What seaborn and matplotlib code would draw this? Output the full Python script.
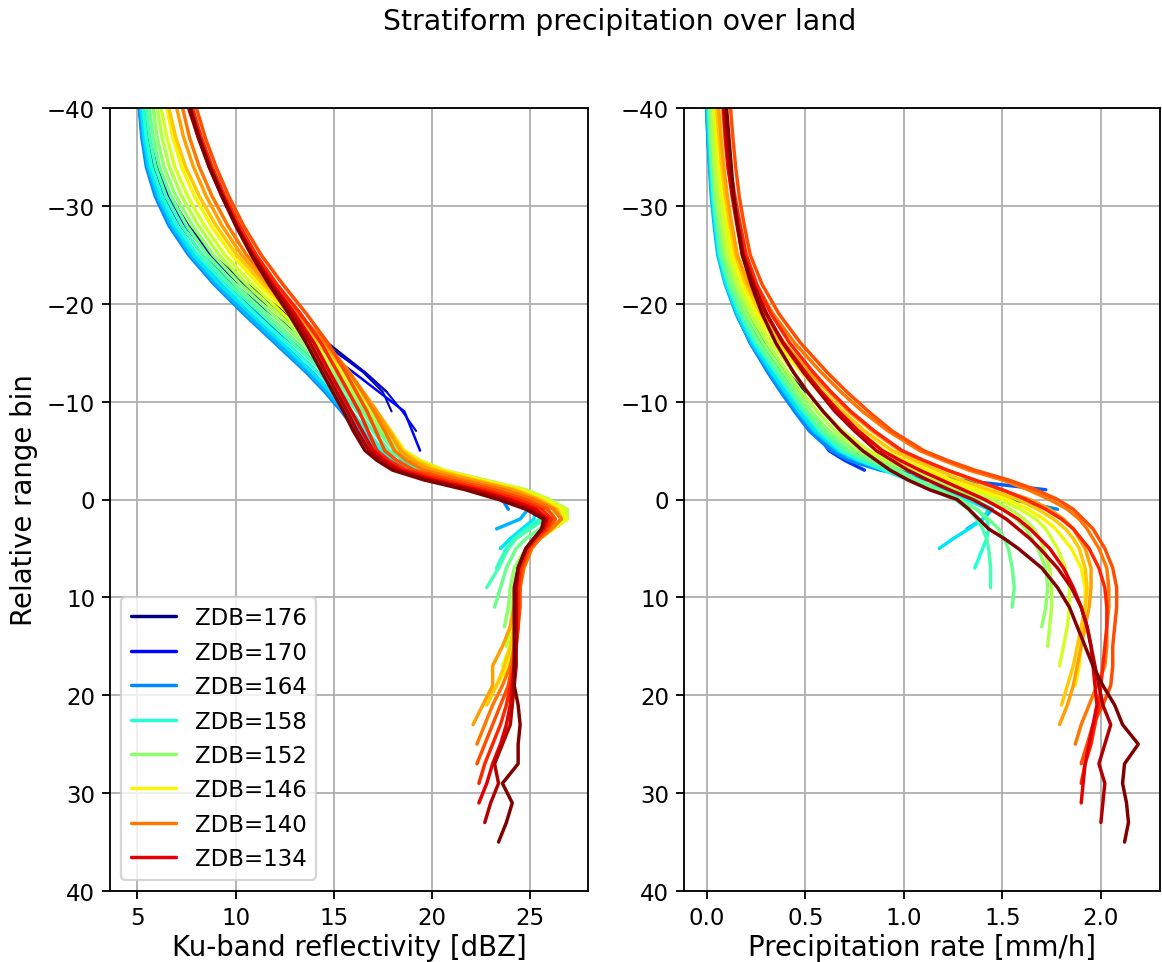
import matplotlib
matplotlib.use("Agg")
import matplotlib.pyplot as plt
import seaborn as sns
import pandas as pd
from matplotlib.lines import Line2D

# ---------------- data ----------------
BINS = [-40, -37, -34, -31, -28, -25, -22, -19, -16, -13, -11, -9, -7, -5,
        -4, -3, -2, -1, 0, 1, 2, 3, 4,
        5, 7, 9, 11, 13, 15, 17, 19, 21, 23, 25, 27, 29, 31, 33, 35]

ZDB = [176, 174, 172, 170, 168, 166, 164, 162, 160, 158, 156, 154,
       152, 150, 148, 146, 144, 142, 140, 138, 136, 134, 132, 130]
LEGEND_ZDB = [176, 170, 164, 158, 152, 146, 140, 134]

# Ku-band reflectivity [dBZ]
refl_176 = [5.4, 5.6, 6.0, 6.7, 7.6, 8.8, 10.6, 12.6, 14.7, 16.6, 17.7]
refl_174 = [5.35, 5.55, 5.9, 6.6, 7.5, 8.7, 10.4, 12.4, 14.5, 16.5, 17.5, 17.95]
refl_172 = [5.3, 5.5, 5.85, 6.5, 7.4, 8.6, 10.2, 12.2, 14.4, 16.6, 17.7, 18.5, 19.2]
refl_170 = [5.2, 5.4, 5.75, 6.35, 7.2, 8.3, 9.9, 11.8, 13.9, 16.0, 17.3, 18.6, 19.0, 19.4]
refl_168 = [5.1, 5.3, 5.6, 6.15, 6.95, 8.0, 9.4, 11.1, 12.9, 14.7, 15.7, 16.6, 17.4, 18.1,
            18.5, 19.3]
refl_166 = [5.1, 5.25, 5.5, 6.0, 6.75, 7.75, 9.1, 10.65, 12.3, 13.9, 14.85, 15.7, 16.45, 17.15,
            17.6, 18.5, 20.3, 22.2]
refl_164 = [5.1, 5.22, 5.45, 5.9, 6.6, 7.6, 8.9, 10.4, 12.0, 13.6, 14.55, 15.4, 16.15, 16.85,
            17.4, 18.4, 20.2, 22.3, 23.6, 23.9]
refl_162 = [5.15, 5.28, 5.52, 6.0, 6.7, 7.7, 9.0, 10.5, 12.1, 13.7, 14.65, 15.5, 16.3, 17.05,
            17.7, 18.7, 20.6, 22.8, 24.2, 24.9, 24.5, 23.3]
refl_160 = [5.2, 5.35, 5.6, 6.1, 6.85, 7.85, 9.2, 10.75, 12.35, 13.9, 14.85, 15.7, 16.5, 17.3,
            18.0, 19.0, 21.0, 23.2, 24.6, 25.3, 25.2, 24.6, 24.0, 23.5]
refl_158 = [5.3, 5.45, 5.72, 6.25, 7.0, 8.05, 9.45, 11.0, 12.6, 14.2, 15.1, 15.9, 16.7, 17.5,
            18.2, 19.3, 21.3, 23.5, 24.9, 25.6, 25.5, 24.8, 24.2, 23.8, 23.3]
refl_156 = [5.45, 5.62, 5.92, 6.45, 7.25, 8.3, 9.7, 11.3, 12.9, 14.5, 15.4, 16.2, 17.0, 17.8,
            18.6, 19.7, 21.8, 23.9, 25.2, 25.9, 25.8, 25.0, 24.3, 23.9, 23.4, 22.8]
refl_154 = [5.6, 5.8, 6.12, 6.7, 7.5, 8.55, 9.95, 11.55, 13.15, 14.75, 15.65, 16.45, 17.25, 18.1,
            18.9, 20.1, 22.2, 24.3, 25.5, 26.2, 26.2, 25.5, 24.8, 24.3, 23.8, 23.5, 23.2]
refl_152 = [5.8, 6.0, 6.35, 6.95, 7.8, 8.85, 10.25, 11.85, 13.45, 15.0, 15.85, 16.65, 17.45, 18.35,
            19.2, 20.4, 22.5, 24.6, 25.8, 26.6, 26.6, 26.0, 25.3, 24.8, 24.2, 24.0, 23.9, 23.7]
refl_150 = [6.0, 6.25, 6.62, 7.25, 8.1, 9.15, 10.55, 12.15, 13.7, 15.2, 16.05, 16.85, 17.65, 18.55,
            19.4, 20.6, 22.7, 24.8, 26.0, 26.9, 26.9, 26.2, 25.5, 25.0, 24.4, 24.2, 24.1, 24.0,
            23.8]
refl_148 = [6.2, 6.5, 6.9, 7.55, 8.4, 9.45, 10.85, 12.4, 13.95, 15.4, 16.25, 17.05, 17.8, 18.6,
            19.4, 20.6, 22.6, 24.7, 25.9, 26.8, 26.9, 26.2, 25.5, 25.0, 24.5, 24.3, 24.2, 24.1,
            24.0, 23.6]
refl_146 = [6.5, 6.8, 7.25, 7.9, 8.75, 9.8, 11.15, 12.7, 14.2, 15.6, 16.4, 17.2, 17.9, 18.6,
            19.3, 20.5, 22.4, 24.5, 25.7, 26.6, 26.8, 26.2, 25.5, 25.0, 24.6, 24.4, 24.3, 24.2,
            24.1, 23.9, 23.3]
refl_144 = [6.6, 6.95, 7.45, 8.15, 9.0, 10.05, 11.4, 12.9, 14.35, 15.7, 16.5, 17.2, 17.9, 18.5,
            19.2, 20.3, 22.2, 24.3, 25.5, 26.4, 26.6, 26.1, 25.5, 25.0, 24.6, 24.4, 24.3, 24.2,
            24.0, 23.7, 23.3, 22.8]
refl_142 = [7.0, 7.35, 7.85, 8.5, 9.3, 10.3, 11.6, 13.1, 14.5, 15.8, 16.5, 17.2, 17.8, 18.4,
            19.0, 20.0, 22.0, 24.1, 25.4, 26.3, 26.6, 26.1, 25.5, 25.0, 24.6, 24.4, 24.2, 24.0,
            23.6, 23.1, 23.1, 22.6, 22.1]
refl_140 = [7.3, 7.65, 8.15, 8.8, 9.6, 10.55, 11.8, 13.2, 14.6, 15.8, 16.45, 17.05, 17.6, 18.1,
            18.7, 19.6, 21.5, 23.7, 25.2, 26.2, 26.6, 26.1, 25.5, 25.1, 24.7, 24.5, 24.4, 24.3,
            24.2, 24.0, 23.6, 23.1, 22.7, 22.3]
refl_138 = [8.0, 8.45, 9.0, 9.65, 10.4, 11.3, 12.4, 13.6, 14.7, 15.6, 16.15, 16.7, 17.15, 17.6,
            18.2, 19.1, 21.0, 23.2, 24.8, 25.9, 26.3, 25.9, 25.4, 25.0, 24.6, 24.5, 24.5, 24.4,
            24.3, 24.1, 23.9, 23.5, 23.1, 22.7, 22.3]
refl_136 = [7.8, 8.25, 8.8, 9.45, 10.2, 11.05, 12.1, 13.3, 14.35, 15.2, 15.75, 16.3, 16.75, 17.2,
            17.8, 18.7, 20.5, 22.7, 24.4, 25.6, 26.1, 25.8, 25.3, 24.9, 24.5, 24.4, 24.4, 24.4,
            24.3, 24.2, 24.0, 23.8, 23.5, 23.1, 22.7, 22.4]
refl_134 = [7.6, 8.1, 8.65, 9.3, 10.05, 10.9, 11.9, 13.0, 14.0, 14.8, 15.35, 15.9, 16.45, 17.0,
            17.6, 18.4, 20.1, 22.3, 24.0, 25.3, 25.9, 25.7, 25.2, 24.8, 24.4, 24.3, 24.3, 24.3,
            24.3, 24.2, 24.1, 24.0, 23.8, 23.5, 23.1, 22.8, 22.4]
refl_132 = [7.7, 8.15, 8.7, 9.35, 10.05, 10.85, 11.8, 12.85, 13.8, 14.6, 15.15, 15.7, 16.2, 16.8,
            17.4, 18.2, 19.8, 22.0, 23.7, 25.0, 25.8, 25.6, 25.2, 24.8, 24.4, 24.3, 24.3, 24.3,
            24.3, 24.3, 24.2, 24.1, 24.0, 23.6, 23.2, 23.4, 23.0, 22.7]
refl_130 = [7.65, 8.1, 8.65, 9.3, 10.0, 10.8, 11.7, 12.7, 13.6, 14.4, 14.95, 15.5, 16.0, 16.6,
            17.2, 18.0, 19.6, 21.7, 23.4, 24.8, 25.7, 25.6, 25.2, 24.8, 24.4, 24.2, 24.2, 24.2,
            24.2, 24.2, 24.2, 24.4, 24.5, 24.4, 24.4, 23.6, 24.1, 23.8, 23.4]

# Precipitation rate [mm/h]
rate_176 = [0.02, 0.025, 0.034, 0.046, 0.066, 0.09, 0.135, 0.205, 0.298, 0.41, 0.50]
rate_174 = [0.02, 0.025, 0.034, 0.046, 0.064, 0.085, 0.13, 0.198, 0.288, 0.40, 0.48, 0.56]
rate_172 = [0.015, 0.02, 0.029, 0.041, 0.059, 0.08, 0.125, 0.19, 0.275, 0.38, 0.46, 0.53, 0.60]
rate_170 = [0.01, 0.015, 0.024, 0.036, 0.052, 0.07, 0.108, 0.165, 0.245, 0.35, 0.42, 0.49, 0.56,
            0.66]
rate_168 = [0.005, 0.01, 0.018, 0.027, 0.042, 0.06, 0.098, 0.15, 0.222, 0.32, 0.39, 0.46, 0.55,
            0.62, 0.70, 0.80]
rate_166 = [0.0, 0.005, 0.015, 0.028, 0.043, 0.065, 0.10, 0.15, 0.22, 0.31, 0.38, 0.45, 0.53,
            0.65, 0.78, 0.95, 1.28, 1.72]
rate_164 = [0.0, 0.005, 0.015, 0.03, 0.045, 0.07, 0.105, 0.155, 0.225, 0.31, 0.375, 0.445, 0.52,
            0.63, 0.72, 0.88, 1.12, 1.36, 1.55, 1.78]
rate_162 = [0.0, 0.006, 0.013, 0.022, 0.037, 0.055, 0.093, 0.148, 0.223, 0.32, 0.39, 0.46, 0.54,
            0.66, 0.76, 0.90, 1.05, 1.20, 1.35, 1.45, 1.40, 1.32]
rate_160 = [0.005, 0.011, 0.018, 0.027, 0.042, 0.06, 0.098, 0.155, 0.233, 0.33, 0.40, 0.47, 0.55,
            0.67, 0.77, 0.90, 1.03, 1.17, 1.32, 1.43, 1.40, 1.33, 1.25, 1.18]
rate_158 = [0.01, 0.016, 0.023, 0.032, 0.047, 0.065, 0.106, 0.165, 0.245, 0.35, 0.42, 0.49, 0.57,
            0.68, 0.78, 0.90, 1.02, 1.14, 1.27, 1.37, 1.42, 1.43, 1.42, 1.40, 1.36]
rate_156 = [0.01, 0.016, 0.024, 0.036, 0.052, 0.07, 0.111, 0.173, 0.255, 0.36, 0.43, 0.50, 0.58,
            0.70, 0.81, 0.94, 1.05, 1.15, 1.26, 1.33, 1.37, 1.40, 1.42, 1.43, 1.44, 1.44]
rate_154 = [0.015, 0.021, 0.029, 0.041, 0.059, 0.08, 0.121, 0.183, 0.265, 0.37, 0.44, 0.51, 0.60,
            0.72, 0.83, 0.97, 1.07, 1.18, 1.29, 1.37, 1.43, 1.48, 1.51, 1.53, 1.55, 1.56, 1.55]
rate_152 = [0.02, 0.024, 0.034, 0.046, 0.066, 0.09, 0.135, 0.20, 0.285, 0.39, 0.46, 0.53, 0.62,
            0.75, 0.87, 1.02, 1.13, 1.25, 1.40, 1.50, 1.57, 1.62, 1.65, 1.68, 1.72, 1.73, 1.72,
            1.70]
rate_150 = [0.025, 0.031, 0.04, 0.055, 0.076, 0.10, 0.149, 0.218, 0.305, 0.41, 0.48, 0.56, 0.65,
            0.78, 0.90, 1.05, 1.17, 1.30, 1.44, 1.54, 1.61, 1.66, 1.69, 1.71, 1.74, 1.75, 1.75,
            1.74, 1.73]
rate_148 = [0.035, 0.044, 0.055, 0.07, 0.091, 0.115, 0.164, 0.235, 0.328, 0.44, 0.51, 0.59, 0.69,
            0.82, 0.94, 1.08, 1.20, 1.34, 1.49, 1.59, 1.67, 1.72, 1.75, 1.78, 1.82, 1.84, 1.84,
            1.83, 1.81, 1.79]
rate_146 = [0.045, 0.054, 0.066, 0.084, 0.106, 0.13, 0.183, 0.255, 0.353, 0.48, 0.57, 0.66, 0.77,
            0.90, 1.00, 1.12, 1.24, 1.38, 1.53, 1.63, 1.71, 1.77, 1.81, 1.85, 1.90, 1.92, 1.92,
            1.91, 1.90, 1.89, 1.87]
rate_144 = [0.05, 0.062, 0.076, 0.094, 0.118, 0.145, 0.198, 0.273, 0.373, 0.50, 0.59, 0.69, 0.80,
            0.94, 1.05, 1.17, 1.29, 1.43, 1.58, 1.68, 1.76, 1.82, 1.86, 1.89, 1.92, 1.93, 1.92,
            1.90, 1.88, 1.86, 1.83, 1.80]
rate_142 = [0.06, 0.072, 0.086, 0.104, 0.128, 0.155, 0.211, 0.29, 0.393, 0.52, 0.62, 0.72, 0.84,
            0.98, 1.09, 1.22, 1.35, 1.49, 1.64, 1.74, 1.81, 1.86, 1.89, 1.92, 1.95, 1.95, 1.94,
            1.92, 1.90, 1.88, 1.86, 1.83, 1.79]
rate_140 = [0.08, 0.092, 0.108, 0.132, 0.16, 0.19, 0.25, 0.335, 0.445, 0.58, 0.68, 0.79, 0.92,
            1.08, 1.20, 1.33, 1.50, 1.63, 1.74, 1.83, 1.89, 1.93, 1.96, 1.99, 2.03, 2.04, 2.04,
            2.03, 2.03, 2.02, 1.98, 1.94, 1.90, 1.87]
rate_138 = [0.12, 0.132, 0.146, 0.164, 0.19, 0.22, 0.28, 0.365, 0.475, 0.61, 0.71, 0.82, 0.94,
            1.10, 1.22, 1.36, 1.53, 1.67, 1.78, 1.86, 1.91, 1.96, 1.99, 2.02, 2.06, 2.08, 2.08,
            2.07, 2.06, 2.06, 2.05, 2.01, 1.96, 1.93, 1.90]
rate_136 = [0.09, 0.102, 0.118, 0.142, 0.17, 0.20, 0.253, 0.325, 0.42, 0.54, 0.63, 0.73, 0.85,
            0.99, 1.10, 1.22, 1.36, 1.50, 1.62, 1.72, 1.80, 1.86, 1.90, 1.94, 1.99, 2.02, 2.03,
            2.03, 2.02, 2.01, 2.00, 1.99, 1.97, 1.95, 1.92, 1.90]
rate_134 = [0.085, 0.094, 0.107, 0.128, 0.153, 0.18, 0.233, 0.30, 0.388, 0.50, 0.58, 0.67, 0.77,
            0.89, 0.98, 1.08, 1.19, 1.30, 1.41, 1.50, 1.58, 1.64, 1.69, 1.74, 1.81, 1.86, 1.90,
            1.93, 1.95, 1.96, 1.97, 1.98, 1.96, 1.94, 1.92, 1.91, 1.90]
rate_132 = [0.09, 0.102, 0.116, 0.134, 0.158, 0.185, 0.238, 0.303, 0.385, 0.49, 0.57, 0.65, 0.75,
            0.86, 0.94, 1.02, 1.12, 1.23, 1.35, 1.44, 1.52, 1.58, 1.64, 1.69, 1.78, 1.85, 1.90,
            1.93, 1.95, 1.97, 1.99, 2.01, 2.05, 2.02, 1.99, 2.02, 2.01, 2.00]
rate_130 = [0.10, 0.112, 0.124, 0.136, 0.156, 0.18, 0.225, 0.28, 0.35, 0.44, 0.51, 0.59, 0.68,
            0.79, 0.86, 0.93, 1.02, 1.13, 1.27, 1.33, 1.38, 1.43, 1.51, 1.58, 1.70, 1.78, 1.84,
            1.88, 1.92, 1.96, 2.01, 2.07, 2.11, 2.19, 2.12, 2.11, 2.13, 2.14, 2.12]

REFL = {z: globals()[f"refl_{z}"] for z in ZDB}
RATE = {z: globals()[f"rate_{z}"] for z in ZDB}

# ---------------- style ----------------
sns.set_style("ticks", {"axes.edgecolor": "black", "xtick.color": "black",
                        "ytick.color": "black", "axes.linewidth": 0.8,
                        "text.color": "black", "axes.labelcolor": "black"})
plt.rcParams["font.family"] = ["DejaVu Sans"]

jet = matplotlib.colormaps["jet"]
COLORS = {z: jet(i / (len(ZDB) - 1)) for i, z in enumerate(ZDB)}
WIDTH = {z: (0.9 if z >= 172 else (1.1 if z == 170 else 1.5)) for z in ZDB}

DPI = 165
W, H = 1162, 963
fig = plt.figure(figsize=(W / DPI, H / DPI), dpi=DPI)
axL = fig.add_axes([110 / W, 71 / H, 478 / W, 783 / H])
axR = fig.add_axes([684 / W, 71 / H, 476 / W, 783 / H])

for ax, source in ((axL, REFL), (axR, RATE)):
    for z in ZDB:
        vals = source[z]
        df = pd.DataFrame({"bin": BINS[:len(vals)], "val": vals})
        sns.lineplot(data=df, x="val", y="bin", orient="y", sort=False,
                     estimator=None, errorbar=None, color=COLORS[z],
                     linewidth=WIDTH[z], ax=ax)
    ax.set_ylim(40, -40)
    ax.set_yticks(range(-40, 41, 10))
    ax.grid(True, color="#b0b0b0", linewidth=0.8)
    ax.set_axisbelow(True)
    ax.tick_params(labelsize=10, length=3.5, width=0.8, pad=3, colors="black")
    for s in ax.spines.values():
        s.set_visible(True)
        s.set_color("black")

axL.set_xlim(3.6, 27.96)
axL.set_xticks([5, 10, 15, 20, 25])
axR.set_xlim(-0.116, 2.30)
axR.set_xticks([0.0, 0.5, 1.0, 1.5, 2.0])

axL.set_xlabel("Ku-band reflectivity [dBZ]", fontsize=12, labelpad=2, color="black")
axL.set_ylabel("Relative range bin", fontsize=12, color="black")
axR.set_xlabel("Precipitation rate [mm/h]", fontsize=12, labelpad=2, color="black")
axR.set_ylabel("")

handles = [Line2D([0], [0], color=COLORS[z], lw=1.5) for z in LEGEND_ZDB]
labels = [f"ZDB={z}" for z in LEGEND_ZDB]
leg = axL.legend(handles, labels, loc="lower left", fontsize=10)
for t in leg.get_texts():
    t.set_color("black")

fig.suptitle("Stratiform precipitation over land", fontsize=12.4, x=620 / W, y=0.992,
             va="top", color="black")

fig.savefig("out.png", dpi=DPI)
